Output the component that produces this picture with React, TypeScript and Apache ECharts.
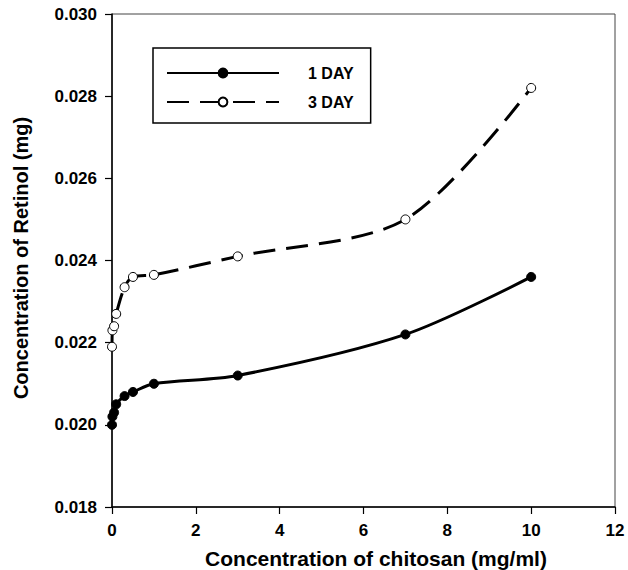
import React, { useEffect, useRef } from "react";
import * as echarts from "echarts";

const concentrations = [0, 0.01, 0.05, 0.1, 0.3, 0.5, 1, 3, 7, 10];
const day1Values = [0.02, 0.0202, 0.0203, 0.0205, 0.0207, 0.0208, 0.021, 0.0212, 0.0222, 0.0236];
const day3Values = [0.0219, 0.0223, 0.0224, 0.0227, 0.02335, 0.0236, 0.02365, 0.0241, 0.025, 0.0282];
const seriesNames = ["1 DAY", "3 DAY"];
const xTitle = "Concentration of chitosan (mg/ml)";
const yTitle = "Concentration of Retinol (mg)";

const FONT = "'Liberation Sans', Arial, Helvetica, sans-serif";

export default function App() {
  const ref = useRef<HTMLDivElement>(null);
  useEffect(() => {
    if (!ref.current) return;
    const chart = echarts.init(ref.current, undefined, { renderer: "svg" });
    const pair = (ys: number[]) => concentrations.map((x, i) => [x, ys[i]]);
    chart.setOption({
      animation: false,
      backgroundColor: "#ffffff",
      grid: {
        left: 112,
        right: 13,
        top: 14,
        bottom: 63,
        show: true,
        borderColor: "#444",
        borderWidth: 1,
      },
      legend: {
        orient: "vertical",
        left: 153,
        top: 48,
        padding: [17, 17, 13, 13],
        itemGap: 13,
        itemWidth: 112,
        itemHeight: 11,
        borderColor: "#000",
        borderWidth: 1.5,
        data: seriesNames,
        textStyle: {
          fontFamily: FONT,
          fontWeight: "bold",
          fontSize: 16,
          lineHeight: 11,
          color: "#000",
          padding: [0, 0, 0, 24],
        },
      },
      xAxis: {
        type: "value",
        min: 0,
        max: 12,
        interval: 2,
        splitLine: { show: false },
        axisLine: { onZero: false, lineStyle: { color: "#000", width: 1.5 } },
        axisTick: { show: true, length: 7, lineStyle: { color: "#000", width: 1.2 } },
        axisLabel: {
          margin: 15,
          fontFamily: FONT,
          fontWeight: "bold",
          fontSize: 17,
          color: "#000",
        },
      },
      yAxis: {
        type: "value",
        min: 0.018,
        max: 0.03,
        interval: 0.002,
        splitLine: { show: false },
        axisLine: { onZero: false, lineStyle: { color: "#000", width: 1.5 } },
        axisTick: { show: true, length: 7, lineStyle: { color: "#000", width: 1.2 } },
        axisLabel: {
          margin: 15,
          fontFamily: FONT,
          fontWeight: "bold",
          fontSize: 17,
          color: "#000",
          formatter: (v: number) => v.toFixed(3),
        },
      },
      graphic: [
        {
          type: "text",
          x: 376,
          y: 558,
          style: {
            text: xTitle,
            font: `bold 21px ${FONT}`,
            fill: "#000",
            textAlign: "center",
            textVerticalAlign: "middle",
          },
        },
        {
          type: "text",
          x: 21,
          y: 258,
          rotation: Math.PI / 2,
          style: {
            text: yTitle,
            font: `bold 20px ${FONT}`,
            fill: "#000",
            textAlign: "center",
            textVerticalAlign: "middle",
          },
        },
      ],
      series: [
        {
          name: seriesNames[0],
          type: "line",
          data: pair(day1Values),
          smooth: 0.3,
          symbol: "circle",
          symbolSize: 9,
          lineStyle: { color: "#000", width: 3 },
          itemStyle: { color: "#000", borderColor: "#000", borderWidth: 1 },
        },
        {
          name: seriesNames[1],
          type: "line",
          data: pair(day3Values),
          smooth: 0.3,
          symbol: "circle",
          symbolSize: 9,
          lineStyle: { color: "#000", width: 3, type: [22, 11] },
          itemStyle: { color: "#fff", borderColor: "#000", borderWidth: 1 },
        },
      ],
    });
    return () => chart.dispose();
  }, []);
  return (
    <div
      ref={ref}
      style={{ position: "absolute", left: 0, top: 0, width: 628, height: 570 }}
    />
  );
}
